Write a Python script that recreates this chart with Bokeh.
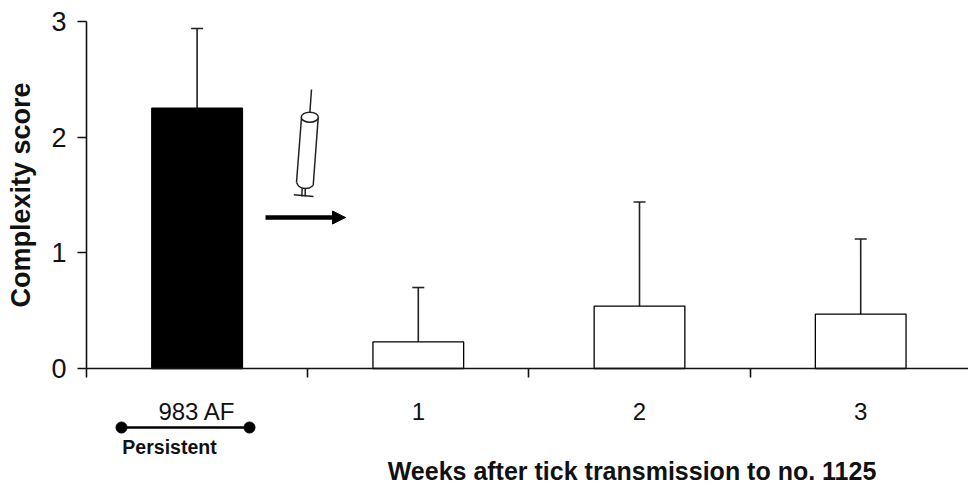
from bokeh.core.properties import value
from bokeh.embed import file_html
from bokeh.models import ColumnDataSource, FixedTicker, LinearAxis, Range1d, TeeHead, Whisker
from bokeh.plotting import figure
from bokeh.resources import INLINE

categories = ["983 AF", "1", "2", "3"]
positions = [0.5, 1.5, 2.5, 3.5]
scores = [2.25, 0.23, 0.54, 0.47]
errors_upper = [2.94, 0.70, 1.44, 1.12]
bar_colors = ["#000000", "#ffffff", "#ffffff", "#ffffff"]
y_ticks = [0, 1, 2, 3]
x_ticks = [0, 1, 2, 3]
y_title = "Complexity score"
x_title = "Weeks after tick transmission to no. 1125"
span_label = "Persistent"

W, H = 968, 489
OFF = 0
X0, PX_PER_CAT = 86.0, 221.2
Y0, PX_PER_UNIT = 368.0, 115.67
INK = "#111111"
FONT = "Liberation Sans"


def dx(px):
    return (px - X0) / PX_PER_CAT


def dy(py):
    return (Y0 - py) / PX_PER_UNIT


p = figure(
    width=W, height=H, output_backend="svg", toolbar_location=None,
    x_range=Range1d(dx(OFF), dx(OFF + W)), y_range=Range1d(dy(OFF + H), dy(OFF)),
    x_axis_location=None, y_axis_location=None,
    min_border=0, min_border_left=0, min_border_right=0, min_border_top=0, min_border_bottom=0,
)
p.outline_line_color = None
p.grid.visible = False
p.background_fill_color = "white"

src = ColumnDataSource(dict(x=positions, top=scores, upper=errors_upper, color=bar_colors))
p.vbar(x="x", top="top", bottom=0, width=0.41, fill_color="color", line_color="#000000", line_width=1.3, source=src)
p.add_layout(Whisker(base="x", lower="top", upper="upper", source=src, dimension="height",
                     line_color="#222222", line_width=1.6, lower_head=None,
                     upper_head=TeeHead(size=12, line_color="#222222", line_width=1.6)))

yaxis = LinearAxis(
    fixed_location=0, bounds=(0, 3), ticker=FixedTicker(ticks=y_ticks),
    major_tick_out=9, major_tick_in=0, minor_tick_line_color=None,
    axis_line_color=INK, axis_line_width=1.6, major_tick_line_color=INK, major_tick_line_width=1.6,
    major_label_text_font=FONT, major_label_text_font_size="27px", major_label_text_color=INK,
    major_label_standoff=11,
    axis_label=y_title, axis_label_text_font=FONT, axis_label_text_font_size="27px",
    axis_label_text_font_style="bold", axis_label_text_color=INK, axis_label_standoff=12,
)
p.add_layout(yaxis, "left")

xaxis = LinearAxis(
    fixed_location=0, bounds=(0, dx(OFF + W)), ticker=FixedTicker(ticks=positions, minor_ticks=x_ticks),
    major_label_overrides=dict(zip(positions, categories)),
    major_tick_line_color=None, minor_tick_out=9, minor_tick_in=0,
    minor_tick_line_color=INK, minor_tick_line_width=1.6,
    axis_line_color=INK, axis_line_width=1.6,
    major_label_text_font=FONT, major_label_text_font_size="24px", major_label_text_color=INK,
    major_label_standoff=20,
)
p.add_layout(xaxis, "below")

# "Persistent" span under the first category
p.line([dx(121), dx(249)], [dy(427), dy(427)], line_color="#000000", line_width=2.6)
p.scatter([dx(121), dx(249)], [dy(427), dy(427)], size=11, fill_color="#000000", line_color="#000000")
p.text([dx(169)], [dy(446)], text=[span_label], text_font=value(FONT), text_font_size="19.5px",
       text_font_style="bold", text_align="center", text_baseline="middle", text_color=INK)
p.text([dx(631.5)], [dy(470)], text=[x_title], text_font=value(FONT), text_font_size="25px",
       text_font_style="bold", text_align="center", text_baseline="middle", text_color=INK)

# Syringe and arrow pictogram
sc = "#222222"
for (x0, y0, x1, y1) in [(301, 117, 296, 182), (317.7, 117, 312.7, 185), (311, 89, 309.3, 113),
                         (301.7, 188, 301.3, 196), (304.7, 188, 304.7, 196), (293.3, 194.3, 313, 196)]:
    p.line([dx(x0), dx(x1)], [dy(y0), dy(y1)], line_color=sc, line_width=1.5)
p.line([dx(v) for v in (296, 298, 301, 305, 309, 312.7)], [dy(v) for v in (182, 185.5, 187.5, 188, 187.5, 185)],
       line_color=sc, line_width=1.5)
p.ellipse(x=[dx(309.3)], y=[dy(116.7)], width=[17 / PX_PER_CAT], height=[10 / PX_PER_UNIT],
          fill_color="white", line_color=sc, line_width=1.5)
p.line([dx(265), dx(333)], [dy(217), dy(217)], line_color="#000000", line_width=4.5)
p.patch([dx(332), dx(345), dx(332)], [dy(210.5), dy(217), dy(223.5)], fill_color="#000000", line_color="#000000")

open("out.html", "w").write(file_html(p, INLINE))
